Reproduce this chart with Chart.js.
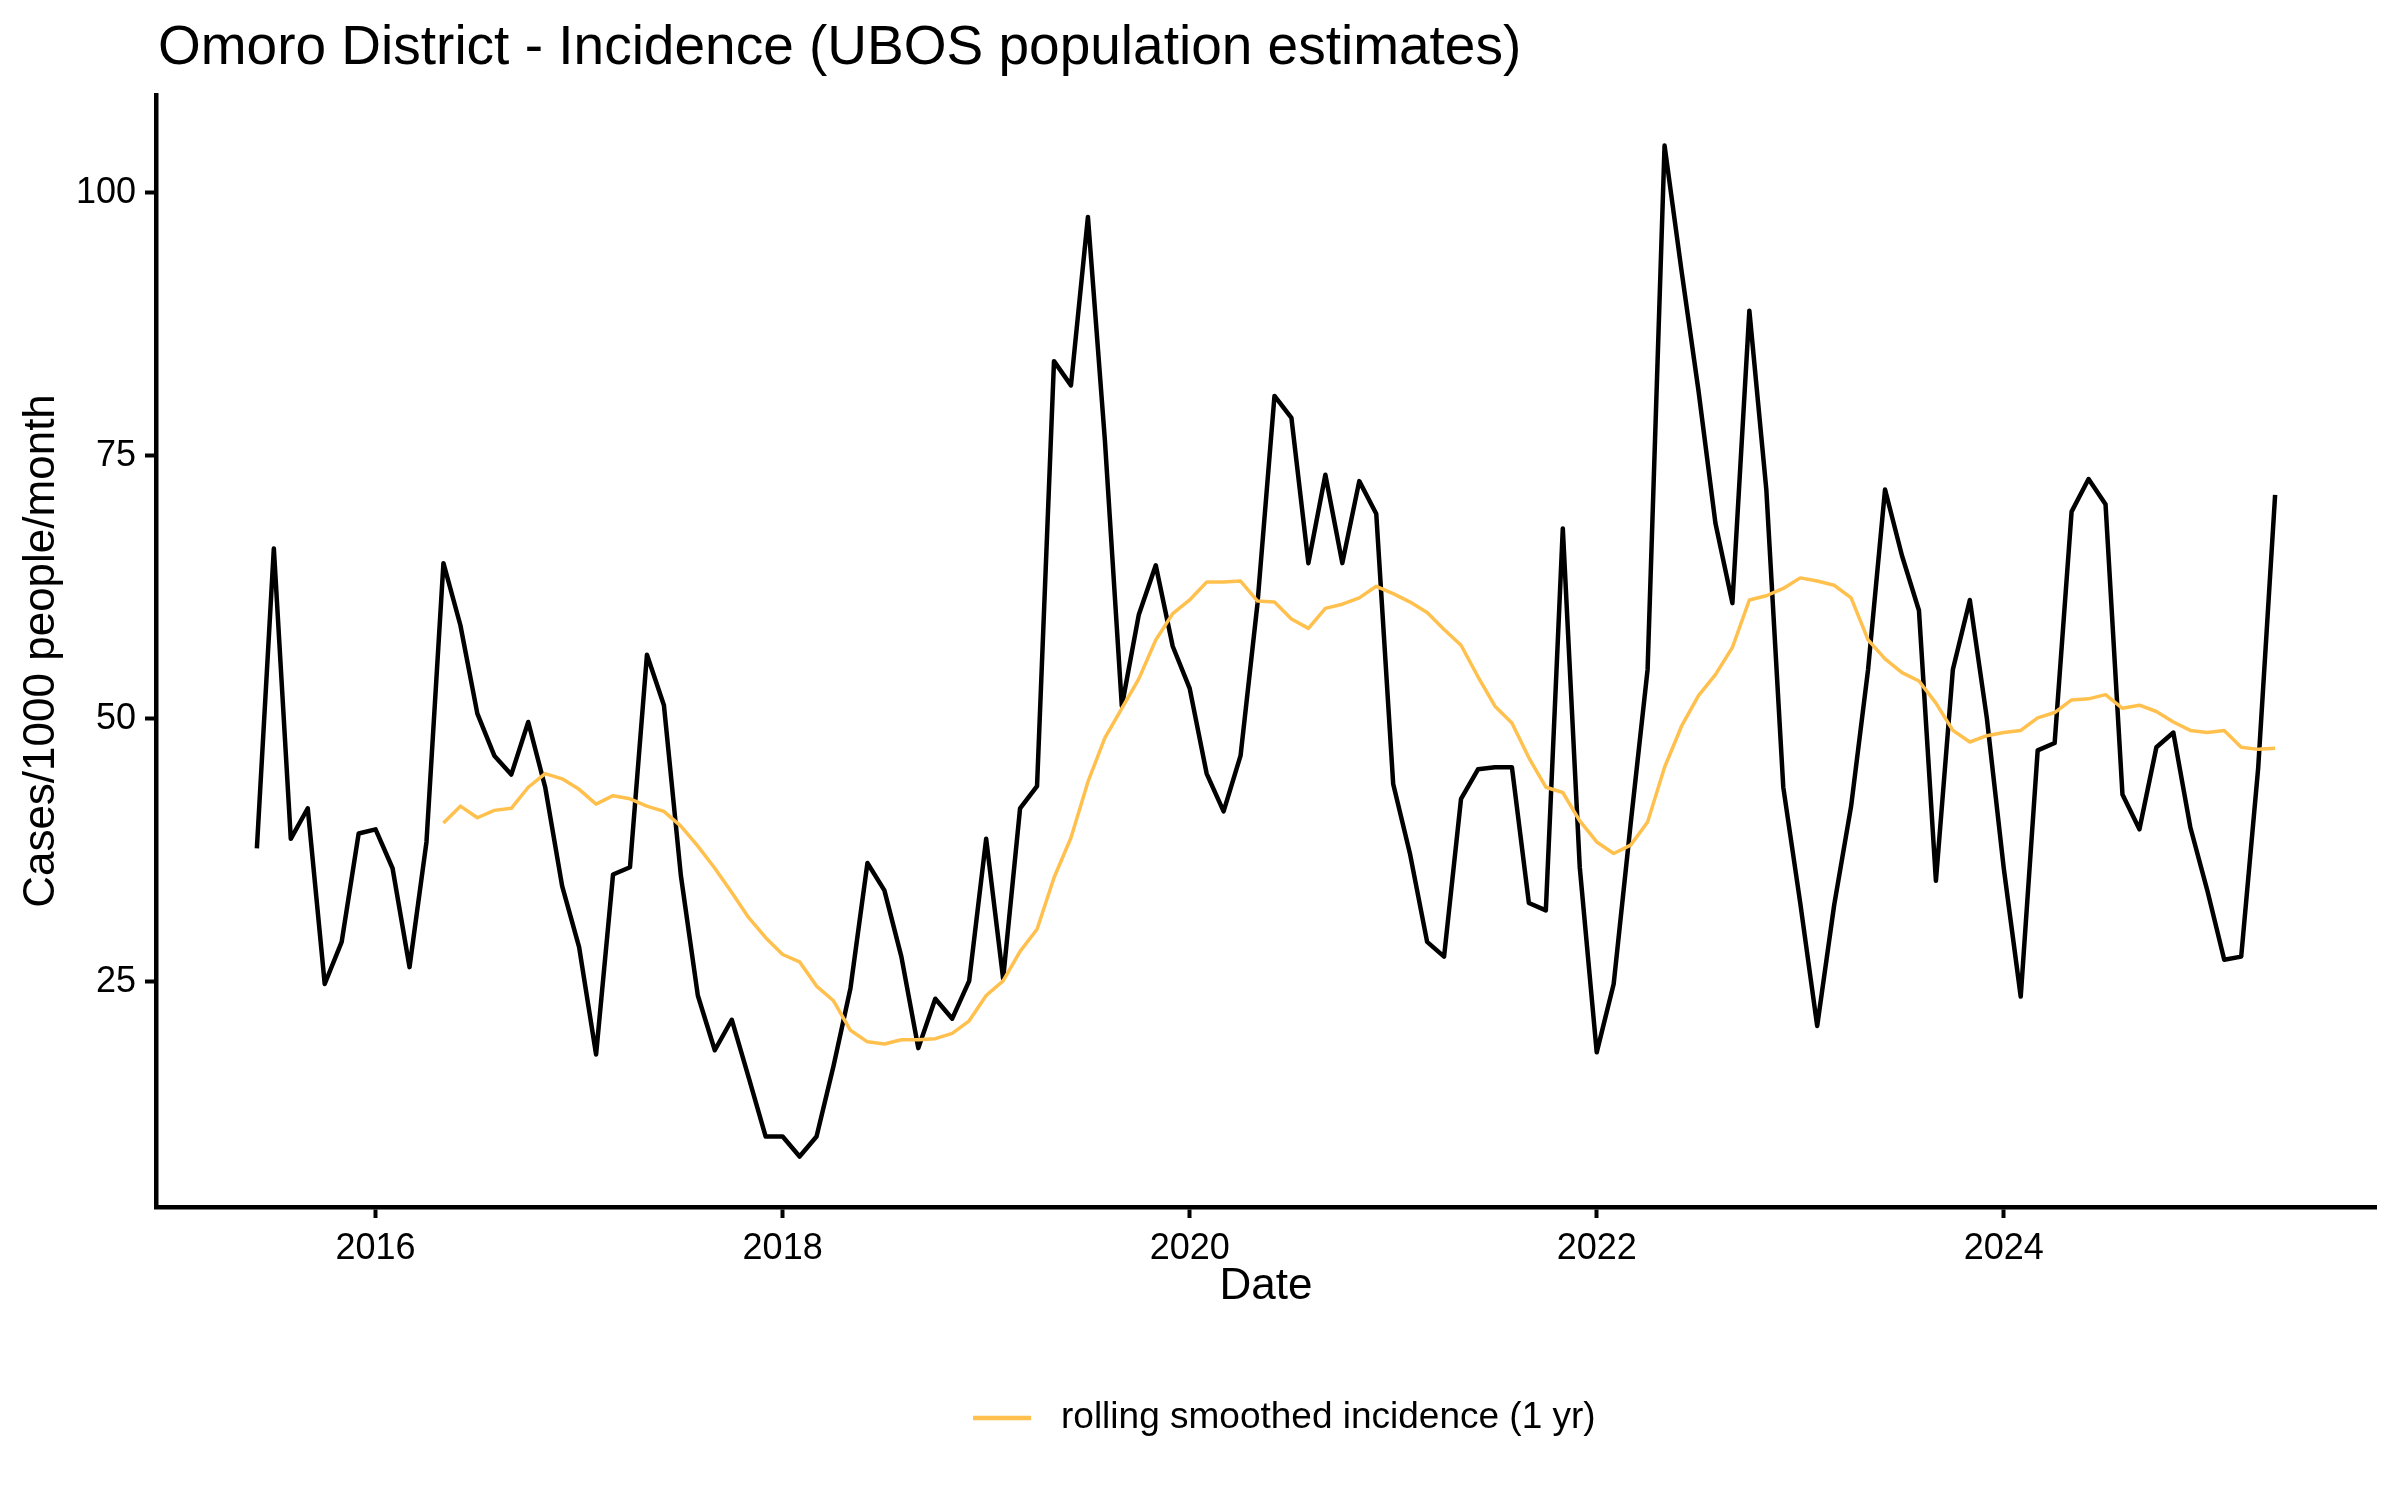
<!DOCTYPE html>
<html>
<head>
<meta charset="utf-8">
<script src="https://cdn.jsdelivr.net/npm/chart.js@4.4.1/dist/chart.umd.min.js"></script>
<style>
  html, body { margin: 0; padding: 0; background: #fff; }
  #wrap { width: 2400px; height: 1500px; }
</style>
</head>
<body>
<div id="wrap"><canvas id="chart" width="2400" height="1500"></canvas></div>
<script>
// Omoro District monthly incidence, Jun 2015 .. May 2025
const startYear = 2015;
const startMonth = 6;

const incidence = [
  37.7, 66.2, 38.6, 41.5, 24.8, 28.8, 39.1,
  39.5, 35.8, 26.4, 38.3, 64.8, 58.9, 50.5, 46.5, 44.7, 49.7, 43.5, 34.1,
  28.3, 18.1, 35.2, 35.9, 56.1, 51.3, 35.1, 23.7, 18.5, 21.4, 15.9, 10.3,
  10.3, 8.4, 10.3, 17.0, 24.4, 36.3, 33.7, 27.4, 18.7, 23.4, 21.5, 25.1,
  38.6, 25.3, 41.5, 43.6, 84.0, 81.7, 97.7, 76.5, 51.2, 59.9, 64.6, 56.9,
  52.9, 44.8, 41.2, 46.5, 61.0, 80.7, 78.6, 64.8, 73.2, 64.8, 72.6, 69.5,
  43.8, 37.1, 28.8, 27.4, 42.4, 45.2, 45.4, 45.4, 32.5, 31.8, 68.1, 35.9,
  18.3, 24.8, 40.0, 54.7, 104.5, 92.6, 81.2, 68.6, 61.0, 88.8, 71.8, 43.5,
  32.5, 20.8, 32.3, 41.7, 54.7, 71.8, 65.5, 60.3, 34.6, 54.7, 61.3, 50.1,
  35.8, 23.6, 47.0, 47.7, 69.7, 72.8, 70.4, 42.8, 39.5, 47.3, 48.7, 39.7,
  33.7, 27.1, 27.4, 45.3, 71.3
];

// rolling 1 yr smoothed incidence, starts May 2016
const smoothedOffset = 11;
const smoothed = [
  40.1, 41.7, 40.6, 41.3, 41.5, 43.5, 44.8, 44.3,
  43.3, 41.9, 42.7, 42.4, 41.7, 41.2, 39.8, 37.9, 35.8, 33.5, 31.1, 29.2,
  27.6, 26.9, 24.6, 23.2, 20.4, 19.3, 19.1, 19.5, 19.5, 19.6, 20.1, 21.3,
  23.7, 25.1, 27.9, 30.0, 34.9, 38.7, 44.0, 48.2, 51.0, 53.8, 57.5, 60.0,
  61.3, 63.0, 63.0, 63.1, 61.2, 61.1, 59.5, 58.6, 60.5, 60.9, 61.5, 62.6,
  61.9, 61.1, 60.1, 58.5, 57.0, 54.0, 51.2, 49.6, 46.3, 43.5, 43.0, 40.3,
  38.3, 37.2, 38.0, 40.2, 45.4, 49.3, 52.2, 54.2, 56.8, 61.3, 61.7, 62.4,
  63.4, 63.1, 62.7, 61.5, 57.5, 55.7, 54.4, 53.6, 51.5, 48.9, 47.8, 48.4,
  48.7, 48.9, 50.1, 50.6, 51.8, 51.9, 52.3, 51.0, 51.3, 50.7, 49.7, 48.9,
  48.7, 48.9, 47.3, 47.1, 47.2
];

const xTicks = [2016, 2018, 2020, 2022, 2024];
const yTicks = [25, 50, 75, 100];

const titleText = "Omoro District - Incidence (UBOS population estimates)";
const xTitle = "Date";
const yTitle = "Cases/1000 people/month";
const legendLabel = "rolling smoothed incidence (1 yr)";

const FONT = "'Liberation Sans', Arial, sans-serif";
const ORANGE = "#FFC04D";

// month index -> decimal year
const monthX = i => startYear + (startMonth - 1 + i) / 12;

const rawPoints = incidence.map((v, i) => ({ x: monthX(i), y: v }));
const smoothPoints = smoothed.map((v, i) => ({ x: monthX(i + smoothedOffset), y: v }));

// title, axis titles and the legend key
const textPlugin = {
  id: "texts",
  afterDraw(chart) {
    const ctx = chart.ctx;
    const area = chart.chartArea;
    ctx.save();
    ctx.fillStyle = "#000";

    ctx.font = "55px " + FONT;
    ctx.textAlign = "left";
    ctx.textBaseline = "alphabetic";
    ctx.fillText(titleText, area.left + 2, 64);

    ctx.font = "44px " + FONT;
    ctx.textAlign = "center";
    ctx.textBaseline = "middle";
    ctx.fillText(xTitle, (area.left + area.right) / 2, 1287);

    ctx.save();
    ctx.translate(42, (area.top + area.bottom) / 2);
    ctx.rotate(-Math.PI / 2);
    ctx.fillText(yTitle, 0, 0);
    ctx.restore();

    ctx.strokeStyle = ORANGE;
    ctx.lineWidth = 4.5;
    ctx.beginPath();
    ctx.moveTo(973, 1418);
    ctx.lineTo(1031, 1418);
    ctx.stroke();
    ctx.font = "37px " + FONT;
    ctx.textAlign = "left";
    ctx.fillText(legendLabel, 1061, 1418);
    ctx.restore();
  }
};

const axisCommon = {
  border: { display: true, color: "#000", width: 4.5 },
  grid: { display: true, drawOnChartArea: false, drawTicks: true, tickLength: 11, tickColor: "#000", tickWidth: 4 },
  ticks: { color: "#000", font: { family: FONT, size: 36 }, padding: 9 }
};

new Chart(document.getElementById("chart"), {
  type: "line",
  data: {
    datasets: [
      {
        label: legendLabel,
        data: smoothPoints,
        borderColor: ORANGE,
        borderWidth: 3.5,
        pointRadius: 0,
        tension: 0,
        borderJoinStyle: "round",
        order: 0
      },
      {
        label: "incidence",
        data: rawPoints,
        borderColor: "#000",
        borderWidth: 4.5,
        pointRadius: 0,
        tension: 0,
        borderJoinStyle: "round",
        order: 1
      }
    ]
  },
  options: {
    responsive: false,
    devicePixelRatio: 1,
    animation: false,
    layout: { padding: { top: 95, right: 24, bottom: 0, left: 0 } },
    plugins: {
      legend: { display: false },
      title: { display: false },
      tooltip: { enabled: false }
    },
    scales: {
      x: {
        ...axisCommon,
        type: "linear",
        min: 2014.921,
        max: 2025.829,
        afterBuildTicks: s => { s.ticks = xTicks.map(v => ({ value: v })); },
        afterFit: s => { s.height = 293; },
        ticks: { ...axisCommon.ticks, maxRotation: 0, callback: v => String(v) }
      },
      y: {
        ...axisCommon,
        type: "linear",
        min: 3.6,
        max: 109.3,
        afterBuildTicks: s => { s.ticks = yTicks.map(v => ({ value: v })); },
        afterFit: s => { s.width = 156; },
        ticks: { ...axisCommon.ticks, callback: v => String(v) }
      }
    }
  },
  plugins: [textPlugin]
});
</script>
</body>
</html>
